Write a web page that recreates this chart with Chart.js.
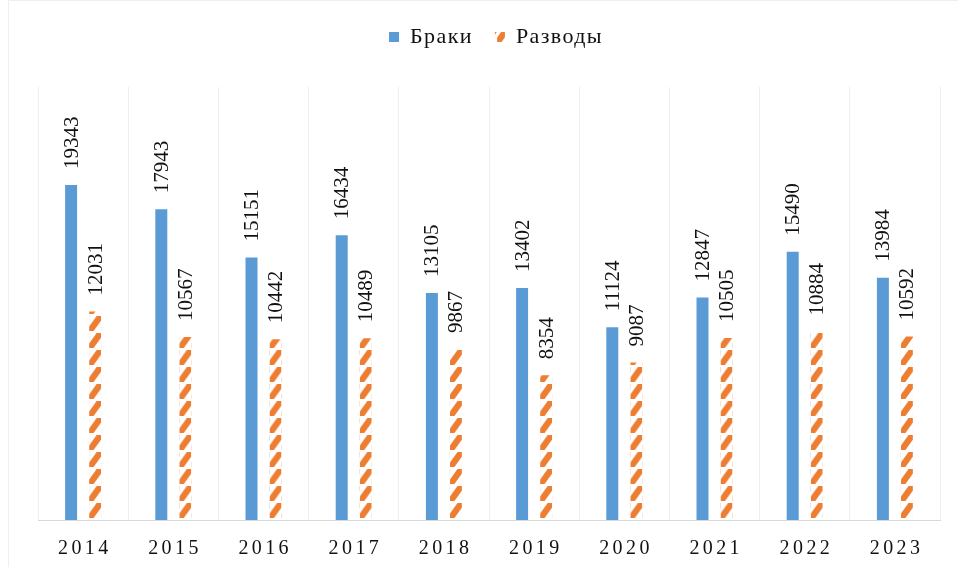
<!DOCTYPE html>
<html><head><meta charset="utf-8">
<script src="https://cdn.jsdelivr.net/npm/chart.js@4.4.0/dist/chart.umd.min.js"></script>
<style>html,body{margin:0;padding:0;background:#fff;}#wrap{position:relative;width:958px;height:567px;}</style>
</head><body><div id="wrap"><canvas id="c" width="958" height="567"></canvas></div>
<script>
const years = ['2014','2015','2016','2017','2018','2019','2020','2021','2022','2023'];
const marriages = [19343,17943,15151,16434,13105,13402,11124,12847,15490,13984];
const divorces = [12031,10567,10442,10489,9867,8354,9087,10505,10884,10592];
const seriesNames = ['Браки','Разводы'];

const BLUE = '#5B9BD5', ORANGE = '#ED7D31';
const FONT = '"Liberation Serif", "Times New Roman", serif';
const CAT_PCT = 0.532, BAR_PCT = 0.5;

function makeTile(){
  const c = document.createElement('canvas'); c.width = 12; c.height = 17;
  const g = c.getContext('2d');
  g.fillStyle = ORANGE;
  g.beginPath();
  g.moveTo(0, 10.5); g.lineTo(7.5, 0); g.lineTo(12, 0); g.lineTo(12, 4.5);
  g.lineTo(4.5, 15); g.lineTo(0, 15); g.closePath(); g.fill();
  return c;
}
const tile = makeTile();
function orangeFill(ctx){
  const chart = ctx.chart;
  const pat = chart.ctx.createPattern(tile, 'repeat');
  const xs = chart.scales && chart.scales.x;
  if (xs && ctx.dataIndex !== undefined) {
    const cx = xs.getPixelForValue(ctx.dataIndex);
    if (isFinite(cx) && xs.width > 0) {
      const w = xs.width / years.length, slot = w * CAT_PCT / 2;
      const left = cx + slot / 2 - slot * BAR_PCT / 2;
      const bottom = chart.chartArea ? chart.chartArea.bottom : 0;
      pat.setTransform(new DOMMatrix([1,0,0,1,left,bottom]));
    }
  }
  return pat;
}

const frame = {id:'frame', beforeDraw(chart){
  const c = chart.ctx; c.save(); c.strokeStyle = '#efefef'; c.lineWidth = 1;
  c.beginPath(); c.moveTo(8.5, 567); c.lineTo(8.5, 0.5); c.lineTo(958, 0.5); c.stroke(); c.restore();
}};
const legendTweak = {id:'legendTweak',
  beforeInit(chart){
    const lg = chart.legend; if (!lg) return;
    const fit = lg.fit, draw = lg.draw;
    lg.fit = function(){
      const c = this.ctx, prev = c.letterSpacing; c.letterSpacing = '1.4px';
      fit.call(this); c.letterSpacing = prev; this.height += 29;
    };
    lg.draw = function(){
      const c = this.ctx, prev = c.letterSpacing; c.letterSpacing = '1.4px';
      draw.call(this); c.letterSpacing = prev;
    };
  },
  afterUpdate(chart){
    const lg = chart.legend; if (!lg) return;
    lg.left += 7; lg.right += 7;
    if (lg.legendHitBoxes) lg.legendHitBoxes.forEach(h => { h.left += 7; });
  }
};
const valueLabels = {id:'valueLabels', afterDatasetsDraw(chart){
  const c = chart.ctx; c.save();
  c.font = '21px ' + FONT; c.fillStyle = '#111111'; c.textAlign = 'left'; c.textBaseline = 'middle';
  chart.data.datasets.forEach((ds, di) => {
    chart.getDatasetMeta(di).data.forEach((bar, i) => {
      c.save(); c.translate(bar.x + 1, bar.y - 16); c.rotate(-Math.PI / 2);
      c.fillText(String(ds.data[i]), 0, 0); c.restore();
    });
  });
  c.restore();
}};
const xLabels = {id:'xLabels', afterDraw(chart){
  const c = chart.ctx, xs = chart.scales.x, sp = 3.4; c.save();
  c.font = '20px ' + FONT; c.fillStyle = '#111111'; c.textAlign = 'left'; c.textBaseline = 'middle';
  years.forEach((lab, i) => {
    const chars = lab.split('');
    const ws = chars.map(ch => c.measureText(ch).width);
    const total = ws.reduce((a,b)=>a+b,0) + sp * (chars.length - 1);
    let x = xs.getPixelForValue(i) - total / 2;
    chars.forEach((ch, k) => { c.fillText(ch, x, 549); x += ws[k] + sp; });
  });
  c.restore();
}};

new Chart(document.getElementById('c'), {
  type: 'bar',
  data: {
    labels: years,
    datasets: [
      {label: seriesNames[0], data: marriages, backgroundColor: BLUE, borderWidth: 0,
       categoryPercentage: CAT_PCT, barPercentage: BAR_PCT},
      {label: seriesNames[1], data: divorces, backgroundColor: orangeFill, borderWidth: 0,
       categoryPercentage: CAT_PCT, barPercentage: BAR_PCT}
    ]
  },
  options: {
    responsive: false, animation: false, devicePixelRatio: 1,
    layout: {padding: {left: 38, right: 18, top: 4, bottom: 47}},
    plugins: {
      legend: {position: 'top', labels: {boxWidth: 10, boxHeight: 10, padding: 22, color: '#111111',
        font: {family: FONT, size: 22}}},
      tooltip: {enabled: false}
    },
    scales: {
      x: {grid: {display: true, color: '#eeeeee', drawTicks: false, offset: true},
          border: {display: true, color: '#d9d9d9'}, ticks: {display: false}},
      y: {display: false, min: 0, max: 25000}
    }
  },
  plugins: [frame, legendTweak, valueLabels, xLabels]
});
</script></body></html>
